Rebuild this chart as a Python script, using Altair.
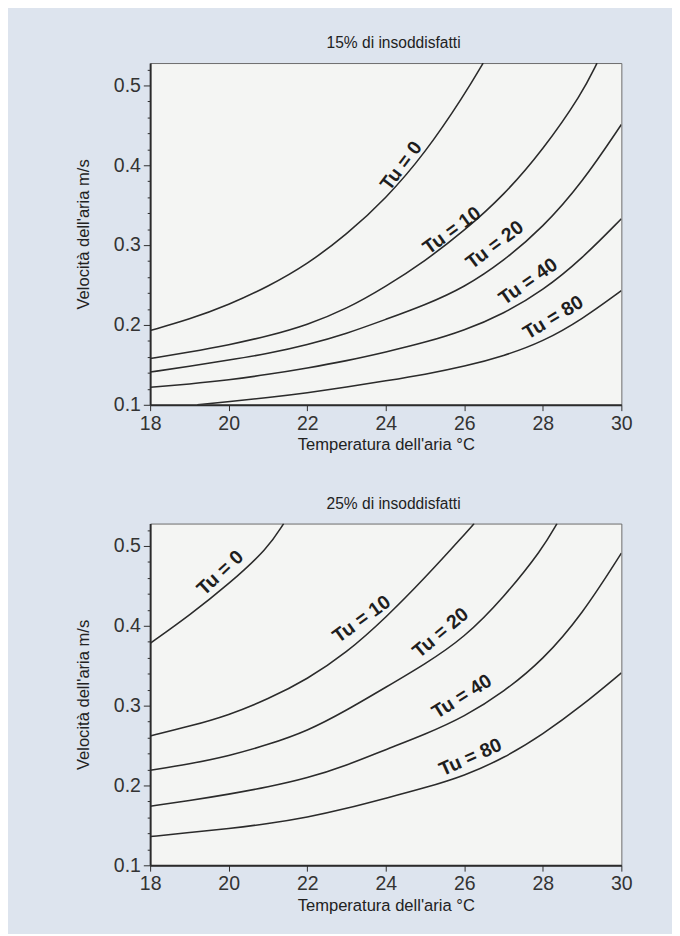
import altair as alt
import pandas as pd

# ---------------- data ----------------
# 15% di insoddisfatti
t15_tu0 = [18, 19, 20, 21, 22, 23, 24, 25, 26, 26.48]
v15_tu0 = [0.193, 0.207, 0.225, 0.248, 0.276, 0.313, 0.358, 0.415, 0.488, 0.528]
t15_tu10 = [18, 19, 20, 21, 22, 23, 24, 25, 26, 27, 28, 29, 29.38]
v15_tu10 = [0.158, 0.166, 0.175, 0.186, 0.200, 0.220, 0.248, 0.280, 0.318, 0.362, 0.419, 0.490, 0.528]
t15_tu20 = [18, 19, 20, 21, 22, 23, 24, 25, 26, 27, 28, 29, 30]
v15_tu20 = [0.141, 0.148, 0.156, 0.164, 0.175, 0.189, 0.207, 0.225, 0.247, 0.280, 0.322, 0.378, 0.451]
t15_tu40 = [18, 19, 20, 21, 22, 23, 24, 25, 26, 27, 28, 29, 30]
v15_tu40 = [0.122, 0.126, 0.131, 0.138, 0.146, 0.155, 0.166, 0.178, 0.193, 0.214, 0.243, 0.283, 0.333]
t15_tu80 = [19.2, 20, 21, 22, 23, 24, 25, 26, 27, 28, 29, 30]
v15_tu80 = [0.100, 0.104, 0.109, 0.115, 0.122, 0.130, 0.138, 0.148, 0.161, 0.179, 0.207, 0.243]

# 25% di insoddisfatti
t25_tu0 = [18, 19, 20, 21, 21.4]
v25_tu0 = [0.378, 0.413, 0.452, 0.497, 0.528]
t25_tu10 = [18, 19, 20, 21, 22, 23, 24, 25, 26, 26.25]
v25_tu10 = [0.262, 0.274, 0.288, 0.308, 0.333, 0.366, 0.410, 0.460, 0.514, 0.528]
t25_tu20 = [18, 19, 20, 21, 22, 23, 24, 25, 26, 27, 28, 28.36]
v25_tu20 = [0.219, 0.227, 0.237, 0.251, 0.268, 0.294, 0.323, 0.352, 0.385, 0.435, 0.497, 0.528]
t25_tu40 = [18, 19, 20, 21, 22, 23, 24, 25, 26, 27, 28, 29, 30]
v25_tu40 = [0.174, 0.181, 0.189, 0.198, 0.209, 0.225, 0.245, 0.264, 0.286, 0.317, 0.357, 0.414, 0.491]
t25_tu80 = [18, 19, 20, 21, 22, 23, 24, 25, 26, 27, 28, 29, 30]
v25_tu80 = [0.136, 0.141, 0.146, 0.152, 0.160, 0.171, 0.184, 0.197, 0.212, 0.234, 0.264, 0.300, 0.341]

# curve labels: text, position (temperature, velocity), rotation
lab_text = ["Tu = 0", "Tu = 10", "Tu = 20", "Tu = 40", "Tu = 80"]
lab15_t = [24.4, 25.69, 26.78, 27.63, 28.27]
lab15_v = [0.399, 0.318, 0.300, 0.254, 0.209]
lab15_ang = [307, 324, 323, 325, 329]
lab25_t = [19.79, 23.39, 25.4, 25.94, 26.16]
lab25_v = [0.466, 0.408, 0.391, 0.311, 0.235]
lab25_ang = [317, 324, 320, 328, 336]

x_ticks = [18, 20, 22, 24, 26, 28, 30]
y_ticks = [round(0.1 + 0.02 * i, 2) for i in range(22)]

titles = ["15% di insoddisfatti", "25% di insoddisfatti"]
x_title = "Temperatura dell'aria °C"
y_title = "Velocità dell'aria m/s"

FONT = "Liberation Sans"
NARROW = "Liberation Sans Narrow, Liberation Sans, Arial"
INK = "#2b2b2b"


def lines_df(series):
    rows = []
    for name, ts, vs in series:
        for t, v in zip(ts, vs):
            rows.append({"T": t, "V": v, "Tu": name})
    return pd.DataFrame(rows)


major_test = "slice(format(datum.value, '.2f'), 3, 4) == '0'"

x_enc = alt.X(
    "T:Q",
    scale=alt.Scale(domain=[18, 30], nice=False),
    axis=alt.Axis(
        values=x_ticks, tickCount=len(x_ticks), title=x_title, grid=False,
        labelFontSize=20, labelFont=FONT, labelColor="#333", tickSize=6,
        tickColor=INK, domainColor=INK, domainWidth=2, labelPadding=3,
        labelFlush=False, titleFont=NARROW, titleFontSize=17,
        titleFontWeight="normal", titleColor="#222", titlePadding=4,
    ),
)
y_enc = alt.Y(
    "V:Q",
    scale=alt.Scale(domain=[0.1, 0.528], nice=False, zero=False),
    axis=alt.Axis(
        values=y_ticks, tickCount=len(y_ticks), title=y_title, grid=False,
        labelFontSize=20, labelFont=FONT, labelColor="#333",
        labelOverlap=False, labelFlush=False,
        labelExpr=f"{major_test} ? format(datum.value, '.1f') : ''",
        tickSize={"condition": {"test": major_test, "value": 7}, "value": 3},
        tickColor=INK, domainColor=INK, domainWidth=2, labelPadding=3,
        titleFont=NARROW, titleFontSize=17, titleFontWeight="normal",
        titleColor="#222", titlePadding=22,
    ),
)


def panel(title, series, lt, lv, la):
    df = lines_df(series)
    ldf = pd.DataFrame({"T": lt, "V": lv, "label": lab_text, "ang": la})
    line = alt.Chart(df).mark_line(
        color=INK, strokeWidth=1.6, interpolate="basis", clip=True
    ).encode(x=x_enc, y=y_enc, detail="Tu:N")
    text = alt.Chart(ldf).mark_text(
        font=FONT, fontSize=20, fontWeight="bold", color="#1e1e1e",
        align="center", baseline="middle",
    ).encode(
        x=alt.X("T:Q"), y=alt.Y("V:Q"), text="label:N",
        angle=alt.Angle("ang:Q", scale=None),
    )
    return alt.layer(line, text).properties(
        width=484, height=351,
        title=alt.TitleParams(title, font=NARROW, fontSize=16, fontWeight="normal",
                              color="#222", anchor="middle", dx=8, offset=9),
    )


top = panel(
    titles[0],
    [("0", t15_tu0, v15_tu0), ("10", t15_tu10, v15_tu10), ("20", t15_tu20, v15_tu20),
     ("40", t15_tu40, v15_tu40), ("80", t15_tu80, v15_tu80)],
    lab15_t, lab15_v, lab15_ang,
)
bottom = panel(
    titles[1],
    [("0", t25_tu0, v25_tu0), ("10", t25_tu10, v25_tu10), ("20", t25_tu20, v25_tu20),
     ("40", t25_tu40, v25_tu40), ("80", t25_tu80, v25_tu80)],
    lab25_t, lab25_v, lab25_ang,
)

chart = alt.vconcat(top, bottom, spacing=43).properties(
    padding={"left": 67, "top": 15, "right": 40, "bottom": 8},
    background="#dde4ee",
).configure_view(stroke="#6a6a6a", strokeWidth=1, fill="#f4f5f3")

chart.save("out.html", embed_options={"renderer": "svg", "actions": False})
